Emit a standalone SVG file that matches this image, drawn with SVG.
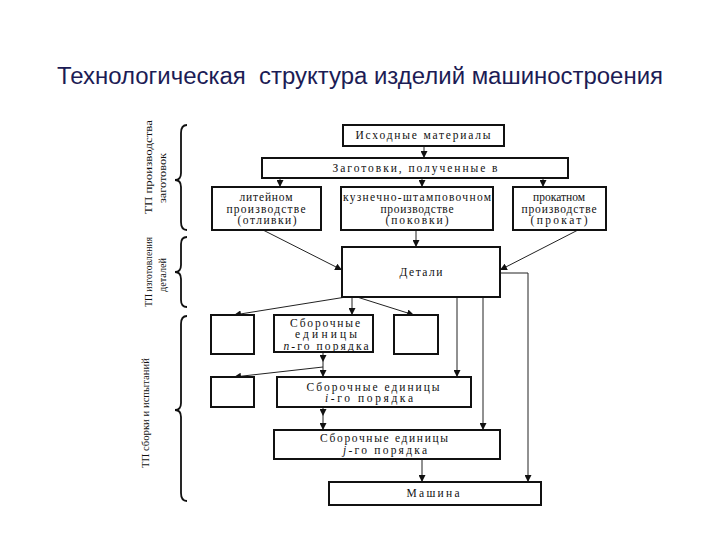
<svg xmlns="http://www.w3.org/2000/svg" width="720" height="540" viewBox="0 0 720 540">
<style>
.box{fill:#fff;stroke:#111;stroke-width:2}
.t{font-family:"Liberation Serif",serif;font-size:11.5px;fill:#111;text-anchor:middle}
.c{fill:none;stroke:#222;stroke-width:1}
.br{fill:none;stroke:#111;stroke-width:1.8}
.lbl{font-family:"Liberation Serif",serif;font-size:11px;fill:#111;text-anchor:middle}
</style>
<defs>
<marker id="a" viewBox="0 0 10 10" refX="10" refY="5" markerWidth="7" markerHeight="7" orient="auto" markerUnits="userSpaceOnUse">
<path d="M0,0 L10,5 L0,10 Z" fill="#111"/>
</marker>
</defs>
<rect width="720" height="540" fill="#fff"/>
<text x="57" y="84" font-family="Liberation Sans, Arial, sans-serif" font-size="23" fill="#1c1c55" textLength="606" lengthAdjust="spacingAndGlyphs" xml:space="preserve">Технологическая  структура изделий машиностроения</text>

<g id="braces">
<path class="br" d="M187,125 Q181,125 181,133 L181,173 Q181,180 175,180 Q181,180 181,187 L181,222 Q181,230 187,230"/>
<path class="br" d="M187,237 Q181,237 181,244 L181,265 Q181,272 175,272 Q181,272 181,279 L181,300 Q181,307 187,307"/>
<path class="br" d="M187,316 Q181,316 181,324 L181,403 Q181,410 175,410 Q181,410 181,417 L181,493 Q181,501 187,501"/>
</g>
<g id="labels">
<text class="lbl" transform="translate(152,167) rotate(-90)" textLength="94" lengthAdjust="spacingAndGlyphs">ТП производства</text>
<text class="lbl" transform="translate(166,178) rotate(-90)" textLength="50" lengthAdjust="spacingAndGlyphs">заготовок</text>
<text class="lbl" transform="translate(152,272) rotate(-90)" textLength="70" lengthAdjust="spacingAndGlyphs">ТП изготовления</text>
<text class="lbl" transform="translate(166,275) rotate(-90)" textLength="34" lengthAdjust="spacingAndGlyphs">деталей</text>
<text class="lbl" transform="translate(149,413) rotate(-90)" textLength="110" lengthAdjust="spacingAndGlyphs">ТП сборки и испытаний</text>
</g>

<g id="connectors">
<path class="c" d="M424,146 L424,158" marker-end="url(#a)"/>
<path class="c" d="M280,178 L280,187" marker-end="url(#a)"/>
<path class="c" d="M422,178 L422,187" marker-end="url(#a)"/>
<path class="c" d="M543,178 L543,187" marker-end="url(#a)"/>
<path class="c" d="M263,230 L342,270" marker-end="url(#a)"/>
<path class="c" d="M416,230 L416,247" marker-end="url(#a)"/>
<path class="c" d="M578,230 L500,270" marker-end="url(#a)"/>
<path class="c" d="M346,297 L234,315" marker-end="url(#a)"/>
<path class="c" d="M352,297 L352,315" marker-end="url(#a)"/>
<path class="c" d="M357,297 L414,315" marker-end="url(#a)"/>
<path class="c" d="M457,297 L457,377" marker-end="url(#a)"/>
<path class="c" d="M483,297 L483,430" marker-end="url(#a)"/>
<path class="c" d="M500,273 L528,273 L528,482" stroke="#666" marker-end="url(#a)"/>
<path class="c" d="M323,352 L323,362" marker-end="url(#a)"/>
<path class="c" d="M323,362 L323,377" marker-end="url(#a)"/>
<path class="c" d="M323,367 L234,377" marker-end="url(#a)"/>
<path class="c" d="M323,407 L323,416" marker-end="url(#a)"/>
<path class="c" d="M323,416 L323,430" marker-end="url(#a)"/>
<path class="c" d="M422,460 L422,482" marker-end="url(#a)"/>
</g>

<g id="n-ishod"><rect class="box" x="343" y="125" width="161" height="21"/><text class="t" x="423" y="139" textLength="135">Исходные материалы</text></g>
<g id="n-zag"><rect class="box" x="262" y="158" width="306" height="20"/><text class="t" x="415" y="172" textLength="165">Заготовки, полученные в</text></g>
<g id="n-lit"><rect class="box" x="212" y="187" width="109" height="43"/><text class="t" x="266" y="201" textLength="53">литейном</text><text class="t" x="266" y="213" textLength="79">производстве</text><text class="t" x="267" y="224" textLength="59">(отливки)</text></g>
<g id="n-kuz"><rect class="box" x="341" y="187" width="152" height="43"/><text class="t" x="417" y="201" textLength="148">кузнечно-штамповочном</text><text class="t" x="417" y="213" textLength="73">производстве</text><text class="t" x="417" y="224" textLength="63">(поковки)</text></g>
<g id="n-prok"><rect class="box" x="513" y="187" width="93" height="43"/><text class="t" x="559" y="201" textLength="52">прокатном</text><text class="t" x="559" y="213" textLength="75">производстве</text><text class="t" x="559" y="224" textLength="57">(прокат)</text></g>
<g id="n-det"><rect class="box" x="342" y="247" width="158" height="50"/><text class="t" x="421" y="276" font-size="12" textLength="43">Детали</text></g>
<g id="n-s1"><rect class="box" x="211" y="315" width="43" height="39"/></g>
<g id="n-sn"><rect class="box" x="274" y="315" width="99" height="37"/><text class="t" x="325" y="327" font-size="12" textLength="70">Сборочные</text><text class="t" x="326" y="338" textLength="62">единицы</text><text class="t" x="326" y="350" font-size="12" textLength="85"><tspan font-style="italic">n</tspan>-го порядка</text></g>
<g id="n-s2"><rect class="box" x="394" y="315" width="44" height="39"/></g>
<g id="n-s3"><rect class="box" x="211" y="377" width="43" height="30"/></g>
<g id="n-si"><rect class="box" x="277" y="377" width="194" height="30"/><text class="t" x="373" y="391" font-size="12" textLength="133">Сборочные единицы</text><text class="t" x="369" y="402" font-size="12" textLength="88"><tspan font-style="italic">i</tspan>-го порядка</text></g>
<g id="n-sj"><rect class="box" x="274" y="430" width="226" height="29"/><text class="t" x="384" y="442" font-size="12" textLength="128">Сборочные единицы</text><text class="t" x="385" y="454" font-size="12" textLength="84"><tspan font-style="italic">j</tspan>-го порядка</text></g>
<g id="n-mash"><rect class="box" x="329" y="482" width="212" height="23"/><text class="t" x="433" y="497" textLength="53">Машина</text></g>
</svg>
